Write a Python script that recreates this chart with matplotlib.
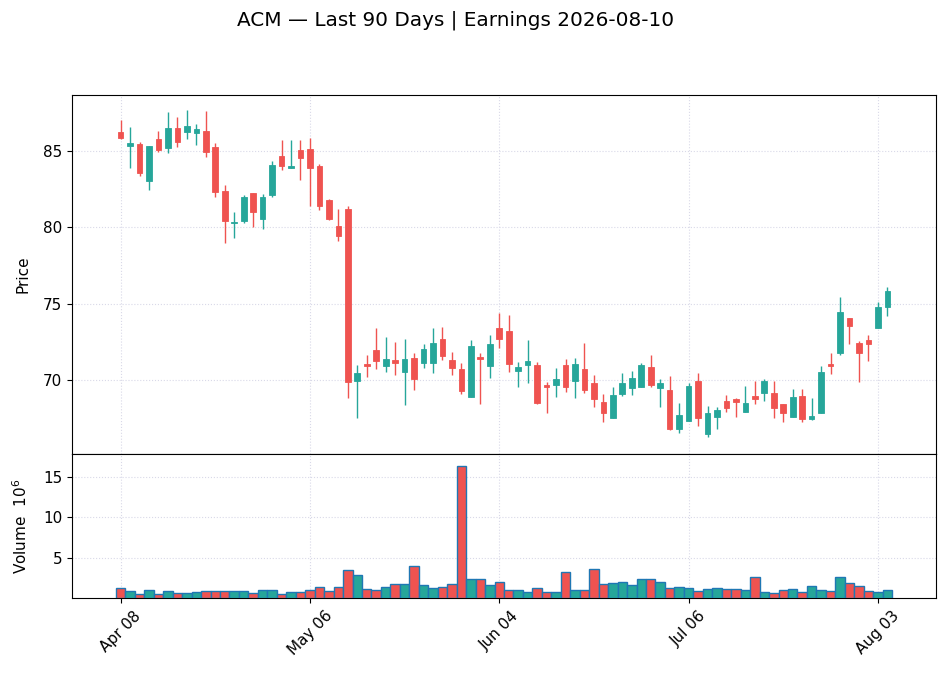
import numpy as np
import pandas as pd
import matplotlib
matplotlib.use("Agg")
import matplotlib.pyplot as plt

ticker = "ACM"
earnings = "2026-08-10"

# prices (one row per trading day from Apr 08)
opens = [86.27, 85.37, 85.48, 83.07, 85.79, 85.24, 86.54, 86.29, 86.23, 86.34,
         85.29, 82.37, 80.29, 80.42, 82.26, 80.57, 82.15, 84.69, 83.93, 85.09,
         85.13, 84.04, 81.80, 80.09, 81.21, 69.91, 71.05, 71.93, 70.90, 71.27,
         70.50, 71.45, 71.12, 71.10, 72.70, 71.27, 70.68, 68.86, 71.53, 70.92,
         73.42, 73.22, 70.55, 70.94, 70.99, 69.67, 69.69, 70.99, 69.89, 70.72,
         69.80, 68.55, 67.52, 69.10, 69.43, 69.50, 70.83, 69.43, 69.34, 66.79,
         67.31, 69.93, 66.45, 67.58, 68.61, 68.74, 67.91, 68.94, 69.16, 69.12,
         68.39, 67.53, 68.94, 67.44, 67.84, 71.06, 71.74, 74.03, 72.44, 72.64,
         73.39, 74.78]
highs = [87.04, 86.58, 85.64, 85.35, 86.34, 87.57, 87.24, 87.70, 86.78, 87.63,
         85.57, 82.76, 81.03, 82.13, 82.26, 82.22, 84.39, 85.72, 85.72, 85.72,
         85.86, 84.17, 81.84, 81.23, 81.38, 70.99, 71.64, 73.42, 72.83, 72.50,
         72.70, 71.78, 72.37, 73.42, 73.46, 71.84, 71.12, 72.63, 71.78, 72.92,
         74.39, 74.25, 71.16, 72.61, 71.16, 69.87, 70.77, 71.36, 71.43, 72.41,
         70.31, 69.10, 69.52, 70.44, 70.57, 71.10, 71.62, 70.04, 70.22, 68.45,
         69.78, 70.44, 68.30, 68.19, 68.99, 68.81, 69.58, 69.93, 70.07, 69.93,
         68.39, 69.38, 69.38, 68.79, 70.90, 71.76, 75.46, 74.03, 72.56, 72.95,
         75.11, 76.12]
lows = [85.79, 83.88, 83.38, 82.43, 84.93, 84.87, 85.31, 85.79, 85.39, 84.63,
        81.97, 79.01, 79.34, 80.31, 80.00, 79.87, 81.97, 83.79, 83.93, 83.10,
        81.38, 81.12, 80.50, 79.14, 68.82, 67.50, 70.18, 70.70, 70.53, 70.33,
        68.36, 69.30, 70.79, 70.46, 71.27, 70.33, 69.08, 68.86, 68.42, 70.15,
        72.08, 70.53, 69.52, 69.78, 68.38, 67.81, 68.86, 69.19, 68.79, 69.12,
        68.20, 67.21, 67.52, 68.93, 68.99, 69.50, 69.52, 68.20, 66.71, 66.48,
        67.31, 67.00, 66.23, 66.76, 67.86, 67.53, 67.91, 68.41, 68.63, 67.49,
        67.20, 67.53, 67.20, 67.33, 67.84, 70.40, 71.63, 72.38, 69.85, 71.23,
        73.39, 74.21]
closes = [85.88, 85.53, 83.60, 85.35, 85.11, 86.54, 85.64, 86.67, 86.47, 84.98,
          82.35, 80.44, 80.37, 82.00, 81.03, 82.00, 84.10, 84.06, 84.04, 84.58,
          83.93, 81.43, 80.55, 79.45, 69.85, 70.46, 70.90, 71.23, 71.38, 71.10,
          71.38, 70.04, 72.00, 72.39, 71.56, 70.77, 69.25, 72.19, 71.36, 72.35,
          72.65, 71.07, 70.86, 71.25, 68.51, 69.50, 70.07, 69.50, 71.05, 69.36,
          68.71, 67.79, 69.01, 69.78, 70.11, 70.99, 69.69, 69.78, 66.80, 67.68,
          69.60, 67.51, 67.80, 68.02, 68.17, 68.57, 68.46, 68.77, 69.93, 68.17,
          67.84, 68.88, 67.40, 67.62, 70.51, 70.88, 74.47, 73.52, 71.76, 72.33,
          74.80, 75.81]
# volume in millions of shares
volumes = [1.29, 0.91, 0.54, 1.04, 0.54, 0.91, 0.71, 0.66, 0.79, 0.91,
           0.91, 0.91, 0.91, 0.91, 0.71, 1.04, 1.04, 0.54, 0.79, 0.79,
           1.04, 1.41, 0.91, 1.41, 3.53, 2.95, 1.18, 1.08, 1.45, 1.83,
           1.83, 3.94, 1.70, 1.33, 1.45, 1.83, 16.27, 2.45, 2.45, 1.70,
           2.07, 1.08, 1.08, 0.83, 1.33, 0.83, 0.83, 3.32, 1.08, 1.08,
           3.69, 1.83, 1.95, 2.07, 1.70, 2.45, 2.45, 2.07, 1.33, 1.45,
           1.33, 0.95, 1.20, 1.33, 1.20, 1.20, 1.08, 2.70, 0.83, 0.71,
           1.08, 1.20, 0.83, 1.58, 1.08, 0.95, 2.70, 1.95, 1.58, 0.95,
           0.83, 1.08]

holidays = ["2026-05-25", "2026-06-19", "2026-07-03"]
dates = pd.bdate_range("2026-04-08", periods=len(opens) + 3)
dates = dates[~dates.isin(pd.to_datetime(holidays))][:len(opens)]

up_col = "#26a69a"
down_col = "#ef5350"

x = np.arange(len(opens))
o = np.array(opens)
c = np.array(closes)
colors = [up_col if cc >= oo else down_col for oo, cc in zip(o, c)]

fig = plt.figure(figsize=(9.47, 6.77), dpi=100)
ax = fig.add_axes([0.076, 0.3294, 0.912, 0.5303])
axv = fig.add_axes([0.076, 0.1160, 0.912, 0.2134], sharex=ax)

# candles
ax.vlines(x, lows, highs, colors=colors, linewidth=1.0, zorder=2)
body_lo = np.minimum(o, c)
body_h = np.maximum(np.abs(c - o), 0.08)
ax.bar(x, body_h, bottom=body_lo, width=0.6, color=colors,
       edgecolor=colors, linewidth=0.6, zorder=3)

ax.set_ylim(65.13, 88.7)
ax.set_yticks([70, 75, 80, 85])
ax.set_ylabel("Price", fontsize=11, labelpad=9)
ax.grid(True, linestyle=":", color="#d9d9e8", linewidth=0.8)
ax.set_axisbelow(True)
ax.tick_params(axis="x", length=0, labelbottom=False)
ax.tick_params(axis="y", labelsize=11)

# volume
axv.bar(x, volumes, width=1.0, color=colors, edgecolor="#1f77b4",
        linewidth=1.0, zorder=3)
axv.set_ylim(0, 17.8)
axv.set_yticks([5, 10, 15])
axv.set_ylabel("Volume  $10^{6}$", fontsize=11, labelpad=9)
axv.grid(True, linestyle=":", color="#d9d9e8", linewidth=0.8)
axv.set_axisbelow(True)
axv.tick_params(axis="y", labelsize=11)

tick_idx = list(range(0, len(x), 20))
axv.set_xticks(tick_idx)
axv.set_xticklabels([dates[i].strftime("%b %d") for i in tick_idx],
                    rotation=45, fontsize=11)
axv.set_xlim(-5.14, 86.1)

fig.text(0.481, 0.970, f"{ticker} \u2014 Last 90 Days | Earnings {earnings}",
         ha="center", va="center", fontsize=14.4)

fig.savefig("out.png", dpi=100)
